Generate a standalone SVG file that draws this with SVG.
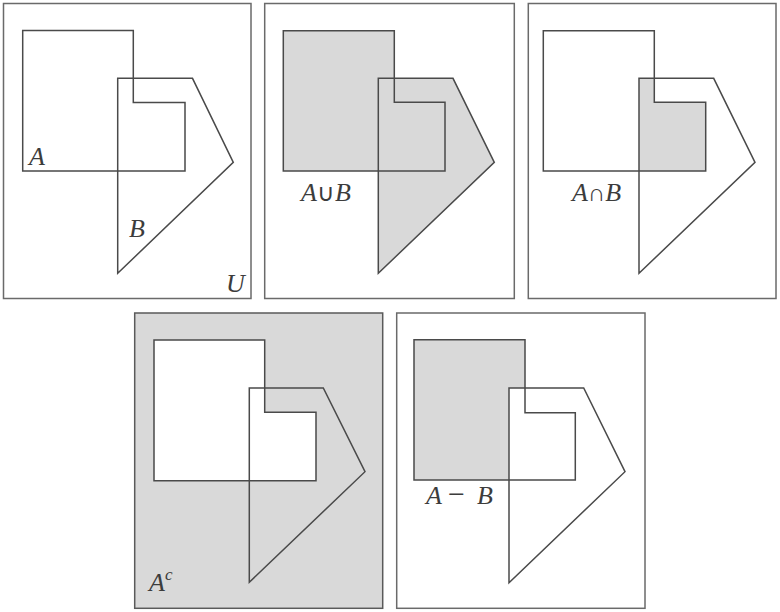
<svg xmlns="http://www.w3.org/2000/svg" width="780" height="612" viewBox="0 0 780 612">
<style>
.frame{fill:#fff;stroke:#6a6a6a;stroke-width:1.5}
.frameg{fill:#d9d9d9;stroke:#5a5a5a;stroke-width:1.5}
.sh{fill:none;stroke:#4a4a4a;stroke-width:1.5;stroke-linejoin:miter}
.g{fill:#d9d9d9;stroke:none}
.w{fill:#fff;stroke:none}
.lbl{font-family:"Liberation Serif","Times New Roman",serif;font-style:italic;font-size:26px;fill:#3c3c3c}
.up{font-style:normal}
</style>
<g id="panel-U">
<rect class="frame" x="3.5" y="3.5" width="247.5" height="295"/>
<polygon class="sh" points="22.7,30.5 133.3,30.5 133.3,102.5 185,102.5 185,171 22.7,171"/>
<polygon class="sh" points="117.7,78.3 192.5,78.3 233.3,162.3 117.7,273.3"/>
<text class="lbl" x="29" y="165">A</text>
<text class="lbl" x="129" y="237">B</text>
<text class="lbl" x="226" y="292">U</text>
</g>
<g id="panel-union">
<rect class="frame" x="264.7" y="3.5" width="249.6" height="295"/>
<polygon class="g" points="283.3,30.7 394.3,30.7 394.3,102.3 445,102.3 445,171 283.3,171"/>
<polygon class="g" points="378.3,78.3 453,78.3 494.3,162.3 378.3,273.3"/>
<polygon class="sh" points="283.3,30.7 394.3,30.7 394.3,102.3 445,102.3 445,171 283.3,171"/>
<polygon class="sh" points="378.3,78.3 453,78.3 494.3,162.3 378.3,273.3"/>
<text class="lbl" x="301" y="201">A<tspan class="up" font-size="24">∪</tspan>B</text>
</g>
<g id="panel-intersection">
<rect class="frame" x="528.3" y="3.5" width="247.7" height="295"/>
<polygon class="g" points="639,78.3 654.3,78.3 654.3,102.3 705.7,102.3 705.7,171 639,171"/>
<polygon class="sh" points="543.3,30.7 654.3,30.7 654.3,102.3 705.7,102.3 705.7,171 543.3,171"/>
<polygon class="sh" points="639,78.3 713.7,78.3 755,162.3 639,273.3"/>
<text class="lbl" x="572" y="201">A<tspan class="up" font-size="24">∩</tspan>B</text>
</g>
<g id="panel-complement">
<rect class="frameg" x="134.7" y="313" width="248" height="295.3"/>
<polygon class="w" points="154,340 264.7,340 264.7,412.3 316,412.3 316,480.7 154,480.7"/>
<polygon class="sh" points="154,340 264.7,340 264.7,412.3 316,412.3 316,480.7 154,480.7"/>
<polygon class="sh" points="249.3,388 323.3,388 365,471.7 249.3,582.3"/>
<text class="lbl" x="149" y="591">A<tspan font-size="17" dy="-11">c</tspan></text>
</g>
<g id="panel-difference">
<rect class="frame" x="396.7" y="313" width="248.3" height="295.3"/>
<polygon class="g" points="414,339.7 525,339.7 525,388 509,388 509,480 414,480"/>
<polygon class="sh" points="414,339.7 525,339.7 525,412.7 575.3,412.7 575.3,480 414,480"/>
<polygon class="sh" points="509,388 583.7,388 625,471.7 509,582.7"/>
<text class="lbl" x="426" y="504"><tspan>A</tspan><tspan class="up" x="448" font-size="30">−</tspan><tspan x="477">B</tspan></text>
</g>
<g id="connectors"></g>
</svg>
